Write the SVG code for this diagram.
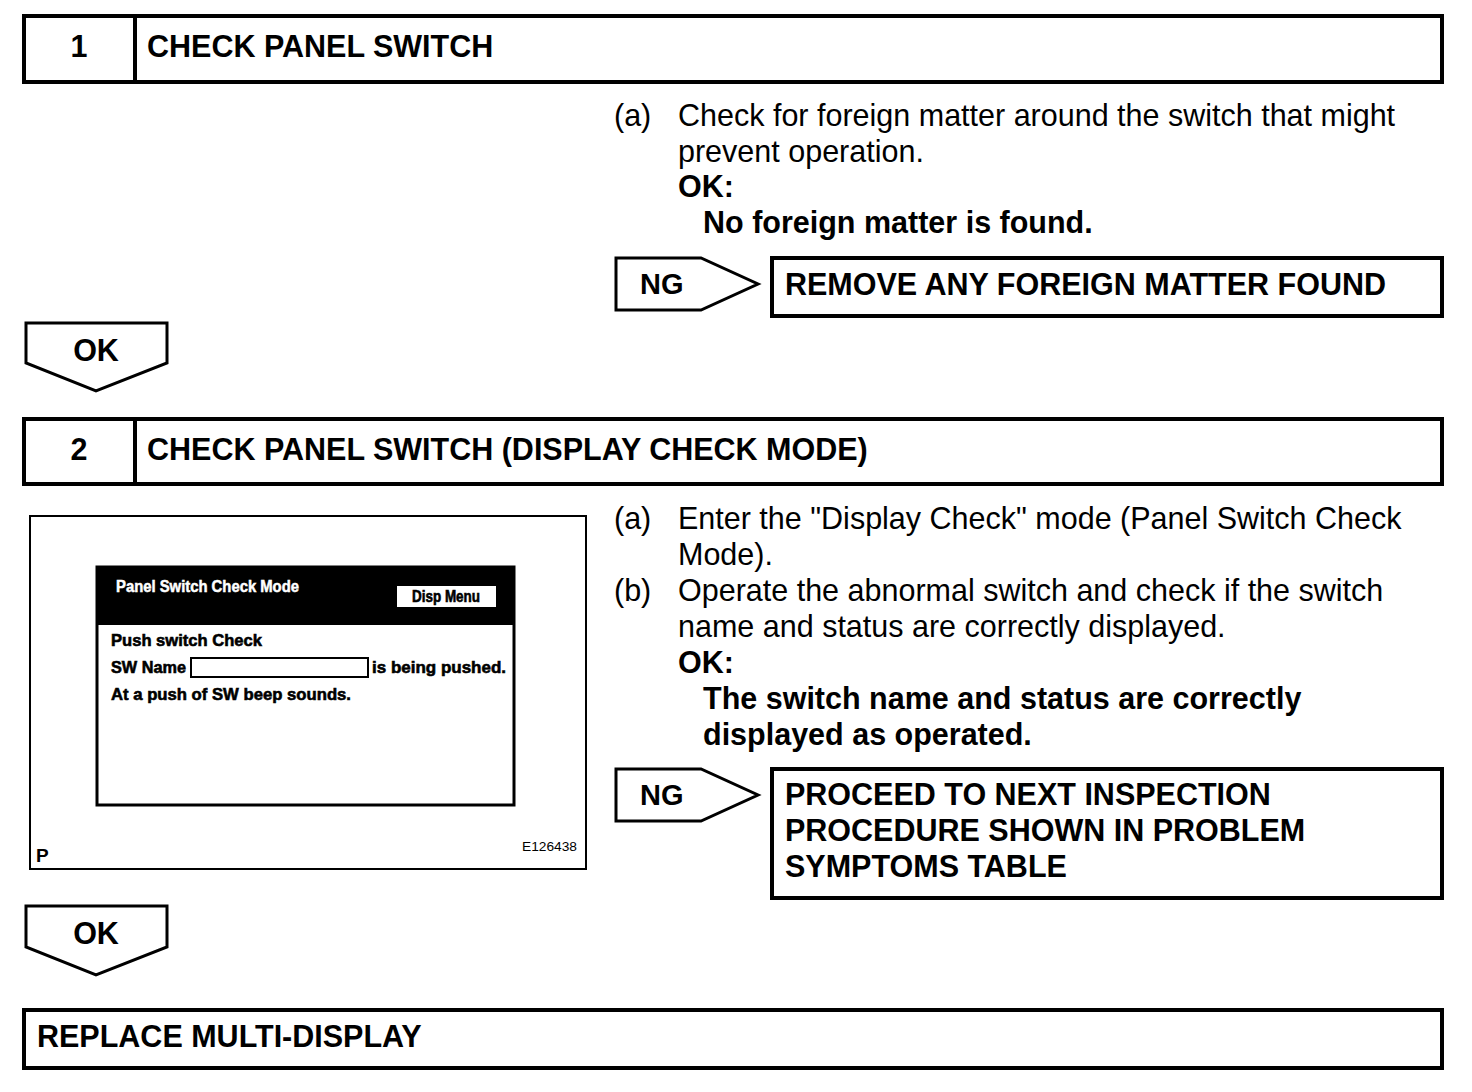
<svg xmlns="http://www.w3.org/2000/svg" width="1472" height="1092" viewBox="0 0 1472 1092">
<style>
.box{fill:#fff;stroke:#000;stroke-width:4}
.arr{fill:#fff;stroke:#000;stroke-width:3;stroke-linejoin:miter}
.b{font-family:"Liberation Sans",Arial,sans-serif;font-weight:bold;fill:#000}
.r{font-family:"Liberation Sans",Arial,sans-serif;fill:#000}
.t30{font-size:30.5px}
.scr{stroke:#000;stroke-width:0.6}
</style>
<rect width="1472" height="1092" fill="#fff"/>

<g id="step1">
  <rect class="box" x="24" y="16" width="1418" height="66"/>
  <line x1="135" y1="16" x2="135" y2="82" stroke="#000" stroke-width="4"/>
  <text class="b t30" x="79" y="57" text-anchor="middle">1</text>
  <text class="b t30" x="147" y="57">CHECK PANEL SWITCH</text>
</g>

<g id="step1-text">
  <text class="r t30" x="614" y="126">(a)</text>
  <text class="r t30" x="678" y="126">Check for foreign matter around the switch that might</text>
  <text class="r t30" x="678" y="162">prevent operation.</text>
  <text class="b t30" x="678" y="197">OK:</text>
  <text class="b t30" x="703" y="233">No foreign matter is found.</text>
</g>

<g id="ng1-result">
  <rect class="box" x="772" y="258" width="670" height="58"/>
  <text class="b t30" x="785" y="295">REMOVE ANY FOREIGN MATTER FOUND</text>
</g>

<g id="step2">
  <rect class="box" x="24" y="419" width="1418" height="65"/>
  <line x1="135" y1="419" x2="135" y2="484" stroke="#000" stroke-width="4"/>
  <text class="b t30" x="79" y="460" text-anchor="middle">2</text>
  <text class="b t30" x="147" y="460">CHECK PANEL SWITCH (DISPLAY CHECK MODE)</text>
</g>

<g id="figure">
  <rect x="30" y="516" width="556" height="353" fill="#fff" stroke="#000" stroke-width="2"/>
  <rect x="97" y="567" width="417" height="238" fill="#fff" stroke="#000" stroke-width="3"/>
  <rect x="96" y="566" width="419" height="59" fill="#000"/>
  <text class="b" x="116" y="592" font-size="16" style="fill:#fff;stroke:#fff;stroke-width:0.5" textLength="183" lengthAdjust="spacingAndGlyphs">Panel Switch Check Mode</text>
  <rect x="397" y="586" width="99" height="21" fill="#fff"/>
  <text class="b scr" x="446" y="602" font-size="16" text-anchor="middle" textLength="68" lengthAdjust="spacingAndGlyphs">Disp Menu</text>
  <text class="b scr" x="111" y="646" font-size="17" textLength="151" lengthAdjust="spacingAndGlyphs">Push switch Check</text>
  <text class="b scr" x="111" y="673" font-size="17" textLength="75" lengthAdjust="spacingAndGlyphs">SW Name</text>
  <rect x="191" y="658" width="177" height="19" fill="#fff" stroke="#000" stroke-width="2"/>
  <text class="b scr" x="372" y="673" font-size="17" textLength="134" lengthAdjust="spacingAndGlyphs">is being pushed.</text>
  <text class="b scr" x="111" y="700" font-size="17" textLength="240" lengthAdjust="spacingAndGlyphs">At a push of SW beep sounds.</text>
  <text class="b" x="36" y="862" font-size="19">P</text>
  <text class="r" x="522" y="851" font-size="13" textLength="55" lengthAdjust="spacingAndGlyphs">E126438</text>
</g>

<g id="step2-text">
  <text class="r t30" x="614" y="529">(a)</text>
  <text class="r t30" x="678" y="529">Enter the "Display Check" mode (Panel Switch Check</text>
  <text class="r t30" x="678" y="565">Mode).</text>
  <text class="r t30" x="614" y="601">(b)</text>
  <text class="r t30" x="678" y="601">Operate the abnormal switch and check if the switch</text>
  <text class="r t30" x="678" y="637">name and status are correctly displayed.</text>
  <text class="b t30" x="678" y="673">OK:</text>
  <text class="b t30" x="703" y="709">The switch name and status are correctly</text>
  <text class="b t30" x="703" y="745">displayed as operated.</text>
</g>

<g id="ng2-result">
  <rect class="box" x="772" y="769" width="670" height="129"/>
  <text class="b t30" x="785" y="805">PROCEED TO NEXT INSPECTION</text>
  <text class="b t30" x="785" y="841">PROCEDURE SHOWN IN PROBLEM</text>
  <text class="b t30" x="785" y="877">SYMPTOMS TABLE</text>
</g>

<g id="final">
  <rect class="box" x="24" y="1010" width="1418" height="58"/>
  <text class="b t30" x="37" y="1047">REPLACE MULTI-DISPLAY</text>
</g>

<g id="connectors">
  <g id="ng1">
    <polygon class="arr" points="616,258 701,258 758,284 701,310 616,310"/>
    <text class="b" x="640" y="294" font-size="29">NG</text>
  </g>
  <g id="ok1">
    <polygon class="arr" points="26,323 167,323 167,363 96,391 26,363"/>
    <text class="b t30" x="96" y="361" text-anchor="middle">OK</text>
  </g>
  <g id="ng2">
    <polygon class="arr" points="616,769 701,769 758,795 701,821 616,821"/>
    <text class="b" x="640" y="805" font-size="29">NG</text>
  </g>
  <g id="ok2">
    <polygon class="arr" points="26,906 167,906 167,947 96,975 26,947"/>
    <text class="b t30" x="96" y="944" text-anchor="middle">OK</text>
  </g>
</g>
</svg>
